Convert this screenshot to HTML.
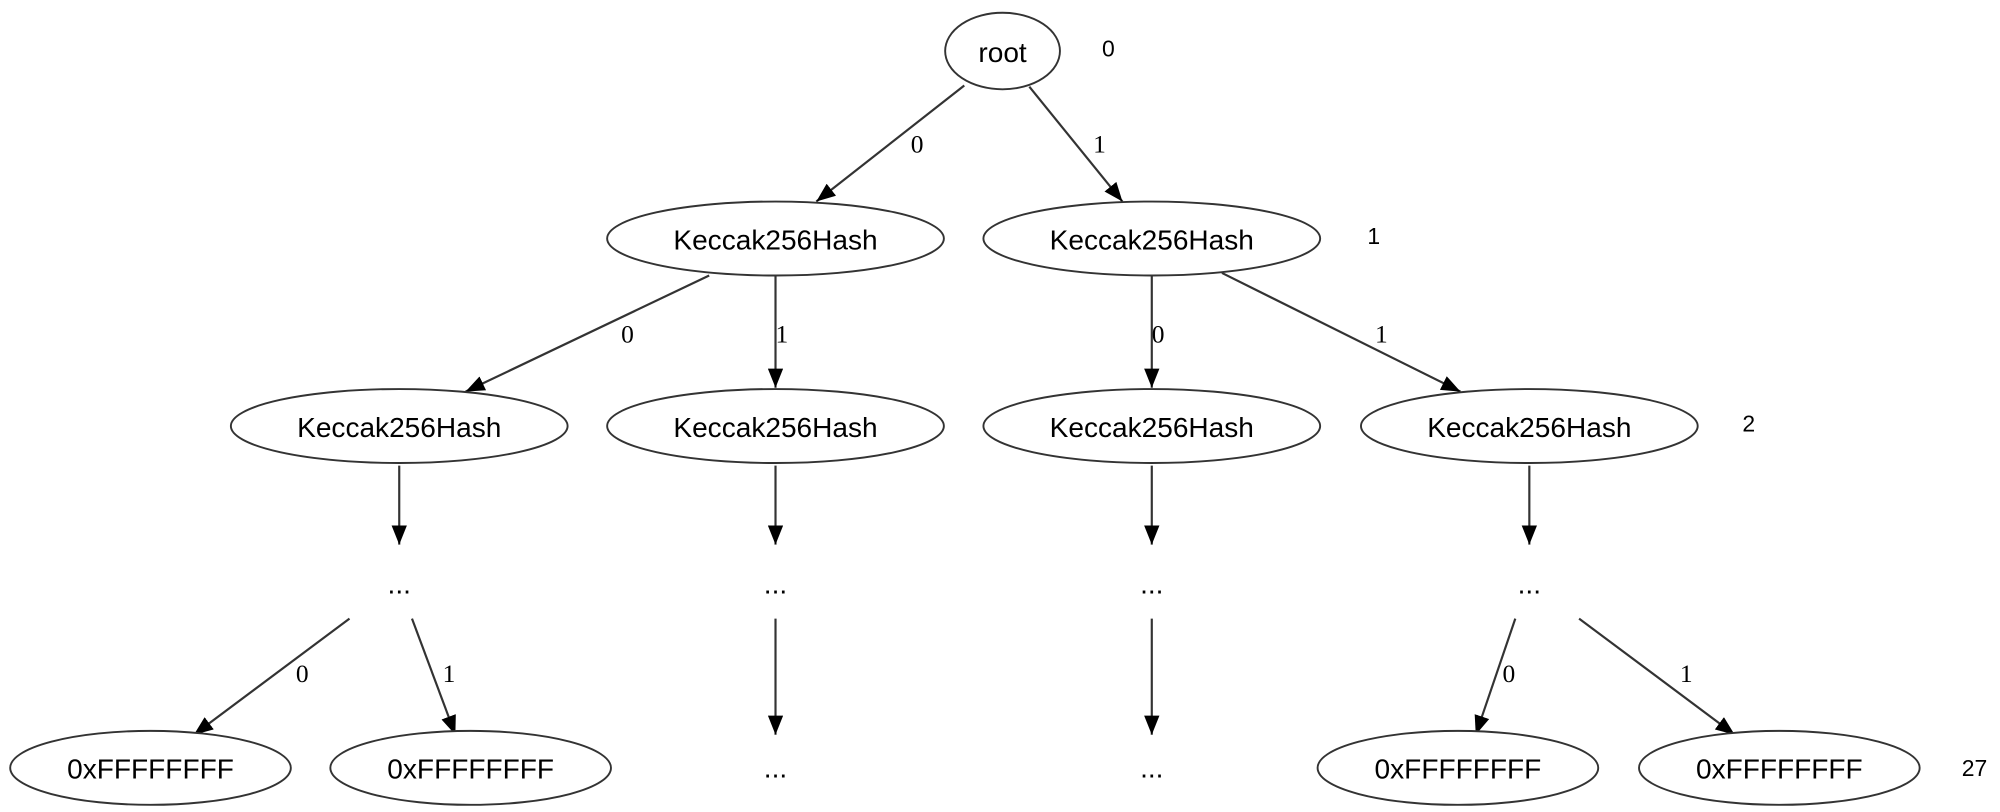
<!DOCTYPE html>
<html><head><meta charset="utf-8"><style>
html,body{margin:0;padding:0;background:#fff;}
svg{display:block;}
.n{font-family:"Liberation Sans",sans-serif;font-size:22px;fill:#000;text-anchor:middle;dominant-baseline:central;}
.e{font-family:"Liberation Serif",serif;font-size:20px;fill:#000;text-anchor:middle;dominant-baseline:central;}
.lv{font-family:"Liberation Sans",sans-serif;font-size:18px;fill:#000;text-anchor:middle;dominant-baseline:central;}
ellipse{fill:#fff;stroke:#333;stroke-width:1.5;}
line{stroke:#333;stroke-width:1.7;}
</style></head><body>
<svg width="2000" height="812" viewBox="0 0 1568 636.6" xmlns="http://www.w3.org/2000/svg">
<defs><marker id="a" markerUnits="userSpaceOnUse" markerWidth="16" markerHeight="12" refX="15" refY="6" orient="auto"><path d="M0,0 L15,6 L0,12 z" fill="#000"/></marker></defs>
<g marker-end="url(#a)">
<line x1="756" y1="67" x2="640" y2="158"/>
<line x1="807" y1="68" x2="880" y2="158"/>
<line x1="556" y1="216" x2="365" y2="307"/>
<line x1="608" y1="216" x2="608" y2="304"/>
<line x1="903" y1="216" x2="903" y2="304"/>
<line x1="958" y1="214" x2="1145" y2="307"/>
<line x1="313" y1="365" x2="313" y2="427"/>
<line x1="608" y1="365" x2="608" y2="427"/>
<line x1="903" y1="365" x2="903" y2="427"/>
<line x1="1199" y1="365" x2="1199" y2="427"/>
<line x1="274" y1="485" x2="152" y2="576"/>
<line x1="323" y1="485" x2="357" y2="576"/>
<line x1="608" y1="485" x2="608" y2="576"/>
<line x1="903" y1="485" x2="903" y2="576"/>
<line x1="1188" y1="485" x2="1157" y2="576"/>
<line x1="1238" y1="485" x2="1360" y2="576"/>
</g>
<text class="e" x="719" y="113">0</text>
<text class="e" x="862" y="113">1</text>
<text class="e" x="492" y="262">0</text>
<text class="e" x="613" y="262">1</text>
<text class="e" x="908" y="262">0</text>
<text class="e" x="1083" y="262">1</text>
<text class="e" x="237" y="528">0</text>
<text class="e" x="352" y="528">1</text>
<text class="e" x="1183" y="528">0</text>
<text class="e" x="1322" y="528">1</text>

<ellipse cx="786" cy="40" rx="45" ry="30"/><text class="n" x="786" y="41">root</text>
<ellipse cx="608" cy="187" rx="132" ry="29"/><text class="n" x="608" y="188">Keccak256Hash</text>
<ellipse cx="903" cy="187" rx="132" ry="29"/><text class="n" x="903" y="188">Keccak256Hash</text>
<ellipse cx="313" cy="334" rx="132" ry="29"/><text class="n" x="313" y="335">Keccak256Hash</text>
<ellipse cx="608" cy="334" rx="132" ry="29"/><text class="n" x="608" y="335">Keccak256Hash</text>
<ellipse cx="903" cy="334" rx="132" ry="29"/><text class="n" x="903" y="335">Keccak256Hash</text>
<ellipse cx="1199" cy="334" rx="132" ry="29"/><text class="n" x="1199" y="335">Keccak256Hash</text>
<text class="n" x="313" y="458">...</text>
<text class="n" x="608" y="458">...</text>
<text class="n" x="903" y="458">...</text>
<text class="n" x="1199" y="458">...</text>
<ellipse cx="118" cy="602" rx="110" ry="29"/><text class="n" x="118" y="603">0xFFFFFFFF</text>
<ellipse cx="369" cy="602" rx="110" ry="29"/><text class="n" x="369" y="603">0xFFFFFFFF</text>
<text class="n" x="608" y="602">...</text>
<text class="n" x="903" y="602">...</text>
<ellipse cx="1143" cy="602" rx="110" ry="29"/><text class="n" x="1143" y="603">0xFFFFFFFF</text>
<ellipse cx="1395" cy="602" rx="110" ry="29"/><text class="n" x="1395" y="603">0xFFFFFFFF</text>

<text class="lv" x="869" y="38">0</text>
<text class="lv" x="1077" y="185">1</text>
<text class="lv" x="1371" y="332">2</text>
<text class="lv" x="1548" y="602">27</text>
</svg>
</body></html>
